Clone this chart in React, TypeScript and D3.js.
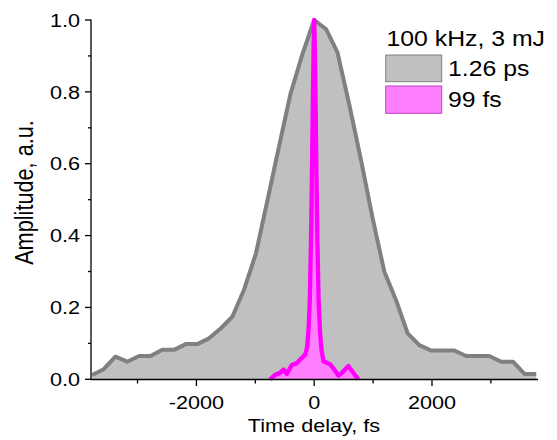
import React from "react";
import * as d3 from "d3";

// Long pulse (1.26 ps) – time delay (fs), amplitude (a.u.)
const grayT = [-3770, -3575, -3375, -3175, -2975, -2780, -2580, -2380, -2180, -1985, -1785, -1585, -1390, -1190, -990, -795, -595, -400, -200, 0, 200, 395, 595, 795, 990, 1190, 1390, 1587, 1785, 1985, 2180, 2380, 2580, 2780, 2975, 3175, 3375, 3570, 3770];
const grayA = [0.012, 0.028, 0.063, 0.049, 0.065, 0.065, 0.082, 0.082, 0.098, 0.098, 0.114, 0.142, 0.174, 0.25, 0.35, 0.497, 0.65, 0.796, 0.905, 1.0, 0.975, 0.91, 0.765, 0.61, 0.45, 0.30, 0.22, 0.128, 0.095, 0.080, 0.080, 0.080, 0.065, 0.065, 0.065, 0.049, 0.049, 0.015, 0.015];

// Short pulse (99 fs)
const pinkT = [-750, -665, -580, -520, -465, -380, -295, -210, -155, -120, -95, -75, -55, -40, -25, -10, 0, 10, 25, 40, 55, 75, 100, 125, 160, 270, 355, 410, 470, 580, 665, 750];
const pinkA = [0.0, 0.012, 0.018, 0.027, 0.015, 0.04, 0.045, 0.06, 0.068, 0.09, 0.14, 0.22, 0.38, 0.55, 0.75, 0.93, 1.0, 0.93, 0.75, 0.55, 0.38, 0.22, 0.13, 0.08, 0.05, 0.042, 0.024, 0.01, 0.018, 0.037, 0.018, 0.0];

const xMajor = [-2000, 0, 2000];
const xMinor = [-3000, -1000, 1000, 3000];
const yMajor = [0, 0.2, 0.4, 0.6, 0.8, 1.0];
const yMinor = [0.1, 0.3, 0.5, 0.7, 0.9];

const legendTitle = "100 kHz, 3 mJ";
const legendLabels = ["1.26 ps", "99 fs"];

const FONT = "'Liberation Sans', Arial, sans-serif";
const SX = 1.17;

export default function App() {
  const x = d3.scaleLinear().domain([-3790, 3800]).range([91, 538]);
  const y = d3.scaleLinear().domain([0, 1]).range([379.3, 20]);

  const gray = grayT.map((t, i) => [t, grayA[i]] as [number, number]);
  const pink = pinkT.map((t, i) => [t, pinkA[i]] as [number, number]);

  const line = d3.line<[number, number]>().x((d) => x(d[0])).y((d) => y(d[1]));
  const area = d3
    .area<[number, number]>()
    .x((d) => x(d[0]))
    .y0(y(0))
    .y1((d) => y(d[1]));

  const txt = (s: string, tx: number, ty: number, size: number, anchor: string, key?: any) => (
    <text
      key={key}
      transform={`translate(${tx},${ty}) scale(${SX},1)`}
      fontSize={size}
      fontFamily={FONT}
      textAnchor={anchor}
      fill="#000"
    >
      {s}
    </text>
  );

  return (
    <svg width={557} height={440} style={{ position: "absolute", left: 0, top: 0, background: "#fff" }}>
      <path d={area(gray) || ""} fill="#c0c0c0" />
      <path d={line(gray) || ""} fill="none" stroke="#808080" strokeWidth={4} strokeLinejoin="round" />
      <path d={area(pink) || ""} fill="#ff80ff" />
      <path d={line(pink) || ""} fill="none" stroke="#ff00ff" strokeWidth={4.3} strokeLinejoin="round" />

      {/* axes */}
      <line x1={91} x2={91} y1={19.5} y2={380} stroke="#000" strokeWidth={1.3} />
      <line x1={90.5} x2={538} y1={379.5} y2={379.5} stroke="#000" strokeWidth={1.3} />
      {xMajor.map((v) => (
        <line key={"xM" + v} x1={x(v)} x2={x(v)} y1={379.5} y2={386} stroke="#000" strokeWidth={1.3} />
      ))}
      {xMinor.map((v) => (
        <line key={"xm" + v} x1={x(v)} x2={x(v)} y1={379.5} y2={383.5} stroke="#000" strokeWidth={1.3} />
      ))}
      {yMajor.map((v) => (
        <line key={"yM" + v} x1={85} x2={91} y1={y(v)} y2={y(v)} stroke="#000" strokeWidth={1.3} />
      ))}
      {yMinor.map((v) => (
        <line key={"ym" + v} x1={88} x2={91} y1={y(v)} y2={y(v)} stroke="#000" strokeWidth={1.3} />
      ))}
      {xMajor.map((v) => txt(String(v), x(v), 409, 18.5, "middle", "xl" + v))}
      {yMajor.map((v) => txt(v.toFixed(1), 80, y(v) + 6.7, 18.5, "end", "yl" + v))}

      {txt("Time delay, fs", 314, 432, 18.5, "middle")}
      <text
        transform={`translate(33,192.5) scale(${SX},1) rotate(-90)`}
        fontSize={21.7}
        fontFamily={FONT}
        textAnchor="middle"
        fill="#000"
      >
        Amplitude, a.u.
      </text>

      {/* legend */}
      {txt(legendTitle, 386.5, 46, 21.2, "start")}
      <rect x={385.7} y={55} width={56} height={26.7} fill="#c0c0c0" stroke="#808080" strokeWidth={1} />
      <rect x={385.7} y={86} width={56} height={27.3} fill="#ff80ff" stroke="#c040c0" strokeWidth={1} />
      {txt(legendLabels[0], 448, 76, 21.2, "start")}
      {txt(legendLabels[1], 448, 107, 21.2, "start")}
    </svg>
  );
}
